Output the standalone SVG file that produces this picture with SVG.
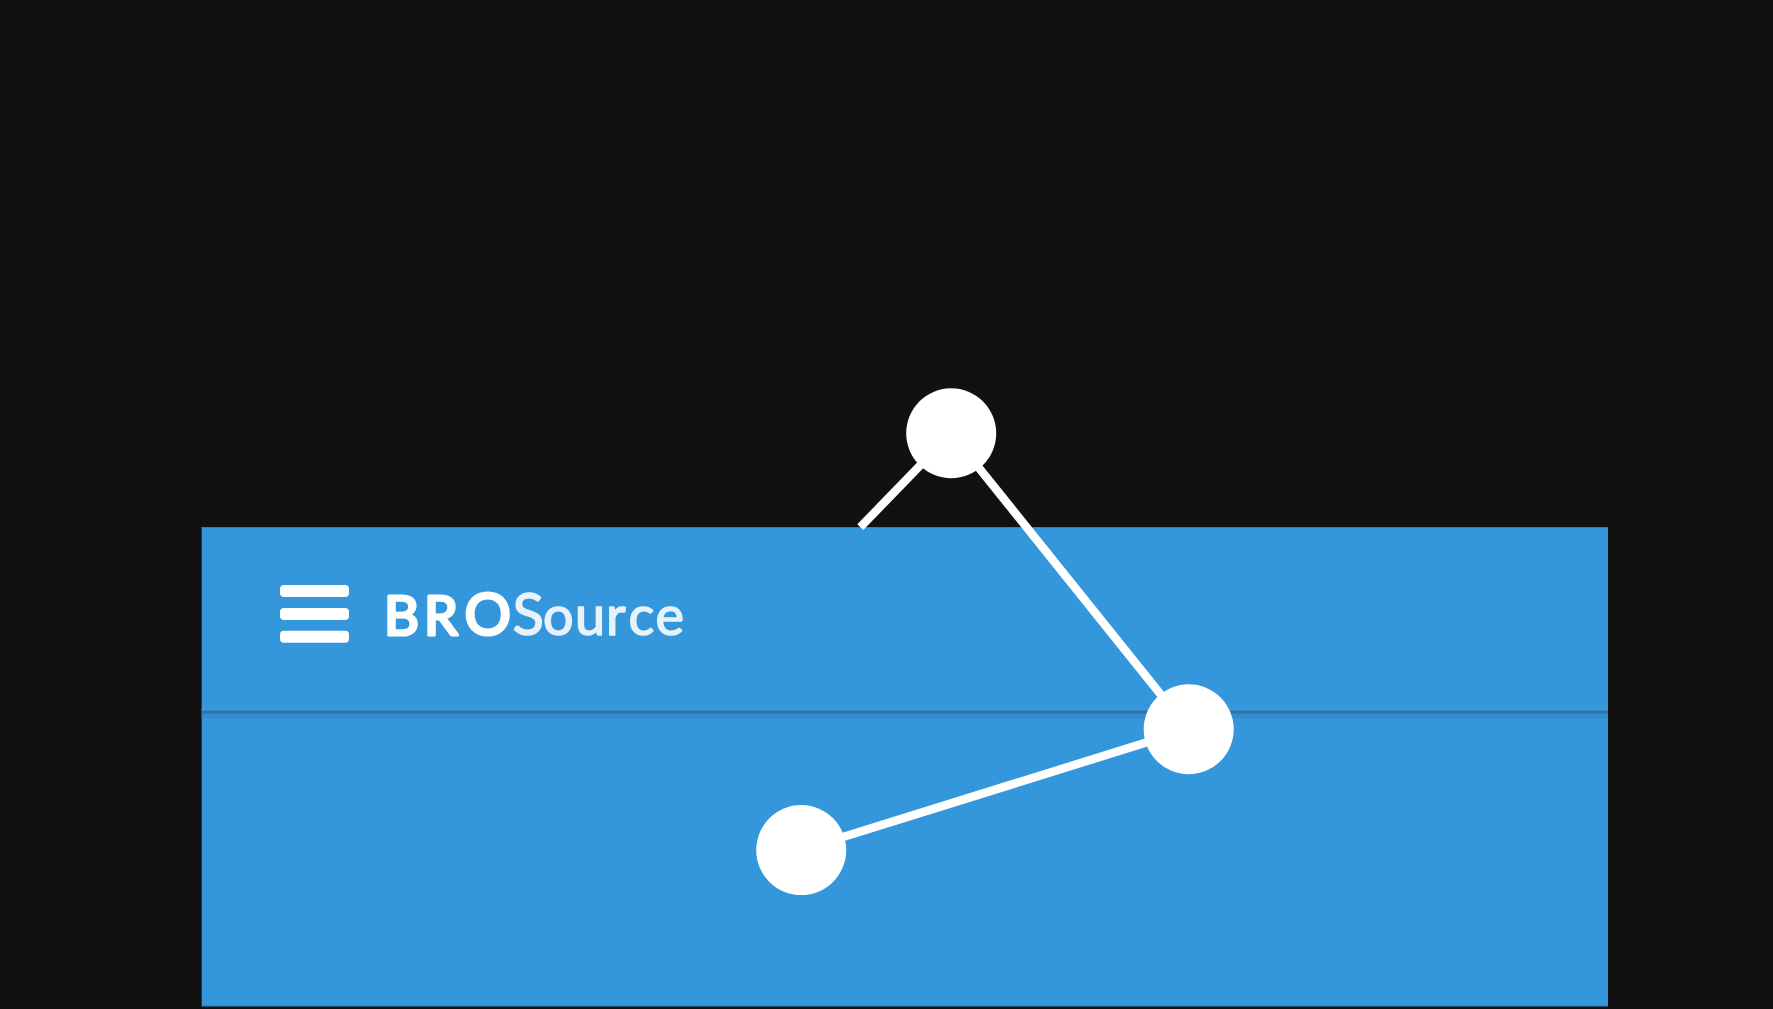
<svg xmlns="http://www.w3.org/2000/svg" width="1773" height="1009" viewBox="0 0 1773 1009">
<style>
.edge{stroke:#fff;stroke-width:8.4;fill:none}
.node{fill:#fff}
.bar{fill:#fff}
.logo{font-family:Lato,"Open Sans","Liberation Sans",sans-serif;font-size:54px;stroke-linejoin:round;font-weight:400}
.a{fill:#fff;stroke:#fff;stroke-width:3.2}
.b{fill:#e7f2fb;stroke:#e7f2fb;stroke-width:1.5}
.big{font-size:58px}
</style>
<rect width="1773" height="1009" fill="#111"/>
<g id="panel">
<rect x="201.7" y="527" width="1406.3" height="479.3" fill="#3597db"/>
<rect x="201.7" y="1005.4" width="1406.3" height="1" fill="#2a78b0"/>
<rect x="201.7" y="527" width="1406.3" height="1" fill="#2f7fb8"/>
<rect x="201.7" y="708.4" width="1406.3" height="2" fill="#409bdc"/>
<rect x="201.7" y="710.4" width="1406.3" height="3.4" fill="#2d75ac"/>
<rect x="201.7" y="713.8" width="1406.3" height="4.6" fill="#328bcb"/>
</g>
<g id="logo">
<rect class="bar" x="280" y="585" width="69" height="12" rx="4"/>
<rect class="bar" x="280" y="608" width="69" height="12" rx="4"/>
<rect class="bar" x="280" y="630.7" width="69" height="12" rx="4"/>
<text class="logo" y="634.5"><tspan class="a" x="384 424">BR</tspan><tspan class="a big" x="464.5">O</tspan><tspan class="b big" x="512.5">S</tspan><tspan class="b" x="543 575 606 628.5 655.5">ource</tspan></text>
</g>
<g id="connectors">
<line class="edge" x1="951.2" y1="433.3" x2="860.3" y2="527.2"/>
<line class="edge" x1="951.2" y1="433.3" x2="1188.7" y2="729.3"/>
<line class="edge" x1="1188.7" y1="729.3" x2="801.2" y2="850.1"/>
</g>
<g id="node-1"><circle class="node" cx="951.2" cy="433.3" r="45"/></g>
<g id="node-2"><circle class="node" cx="1188.7" cy="729.3" r="45"/></g>
<g id="node-3"><circle class="node" cx="801.2" cy="850.1" r="45"/></g>
</svg>
